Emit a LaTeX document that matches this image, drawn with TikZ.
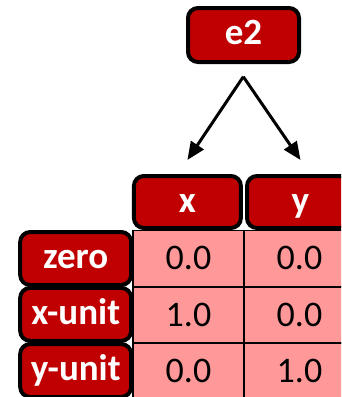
\documentclass[tikz,border=0pt]{standalone}
\usepackage{fontspec}
\setmainfont{Carlito}
\usetikzlibrary{arrows.meta}
\definecolor{darkred}{HTML}{C00000}
\definecolor{cellpink}{HTML}{FF9999}
\begin{document}
\begin{tikzpicture}[x=1pt,y=-1pt,
  tag/.style={draw=black, line width=4pt, fill=darkred, rounded corners=10pt,
    text=white, font=\fontsize{37}{40}\selectfont\bfseries, inner sep=0pt,
    text height=20pt, text depth=0pt, minimum width=111pt, minimum height=53pt},
  cell/.style={draw=black, line width=1.5pt, fill=cellpink,
    font=\fontsize{36}{40}\selectfont, inner sep=0pt,
    text height=22pt, text depth=0pt, minimum width=111pt, minimum height=56pt},
  link/.style={line width=3pt, -{Triangle[length=18pt,width=15pt]}}]
\useasboundingbox (0,0) rectangle (341,397);
\clip (0,0) rectangle (341,397);

% values of the table
\node[cell] (c11) at (188.5,258.5) {0.0};
\node[cell] (c12) at (299.5,258.5) {0.0};
\node[cell] (c21) at (188.5,315) {1.0};
\node[cell] (c22) at (299.5,315) {0.0};
\node[cell] (c31) at (188.5,371) {0.0};
\node[cell] (c32) at (299.5,371) {1.0};

% row labels
\node[tag] (zero)  at (75.7,258.5) {zero};
\node[tag] (xunit) at (75.7,314.4) {x-unit};
\node[tag] (yunit) at (75.7,370.5) {y-unit};

% column headers
\node[tag, minimum width=107pt, minimum height=52pt, text height=21pt] (hx) at (187.4,202) {x};
\node[tag, minimum width=107pt, minimum height=52pt, text height=21pt] (hy) at (300.5,202) {y};

% root
\node[tag, minimum height=54pt, text height=19pt, font=\fontsize{37}{40}\selectfont\bfseries] (e2) at (243.5,35) {e2};

% arrows from the root down to the two headers
\coordinate (apex) at (243.3,76.7);
\draw[link] (apex) -- (hx.center |- 0,160);
\draw[link] (apex) -- (hy.center |- 0,160);
\end{tikzpicture}
\end{document}
